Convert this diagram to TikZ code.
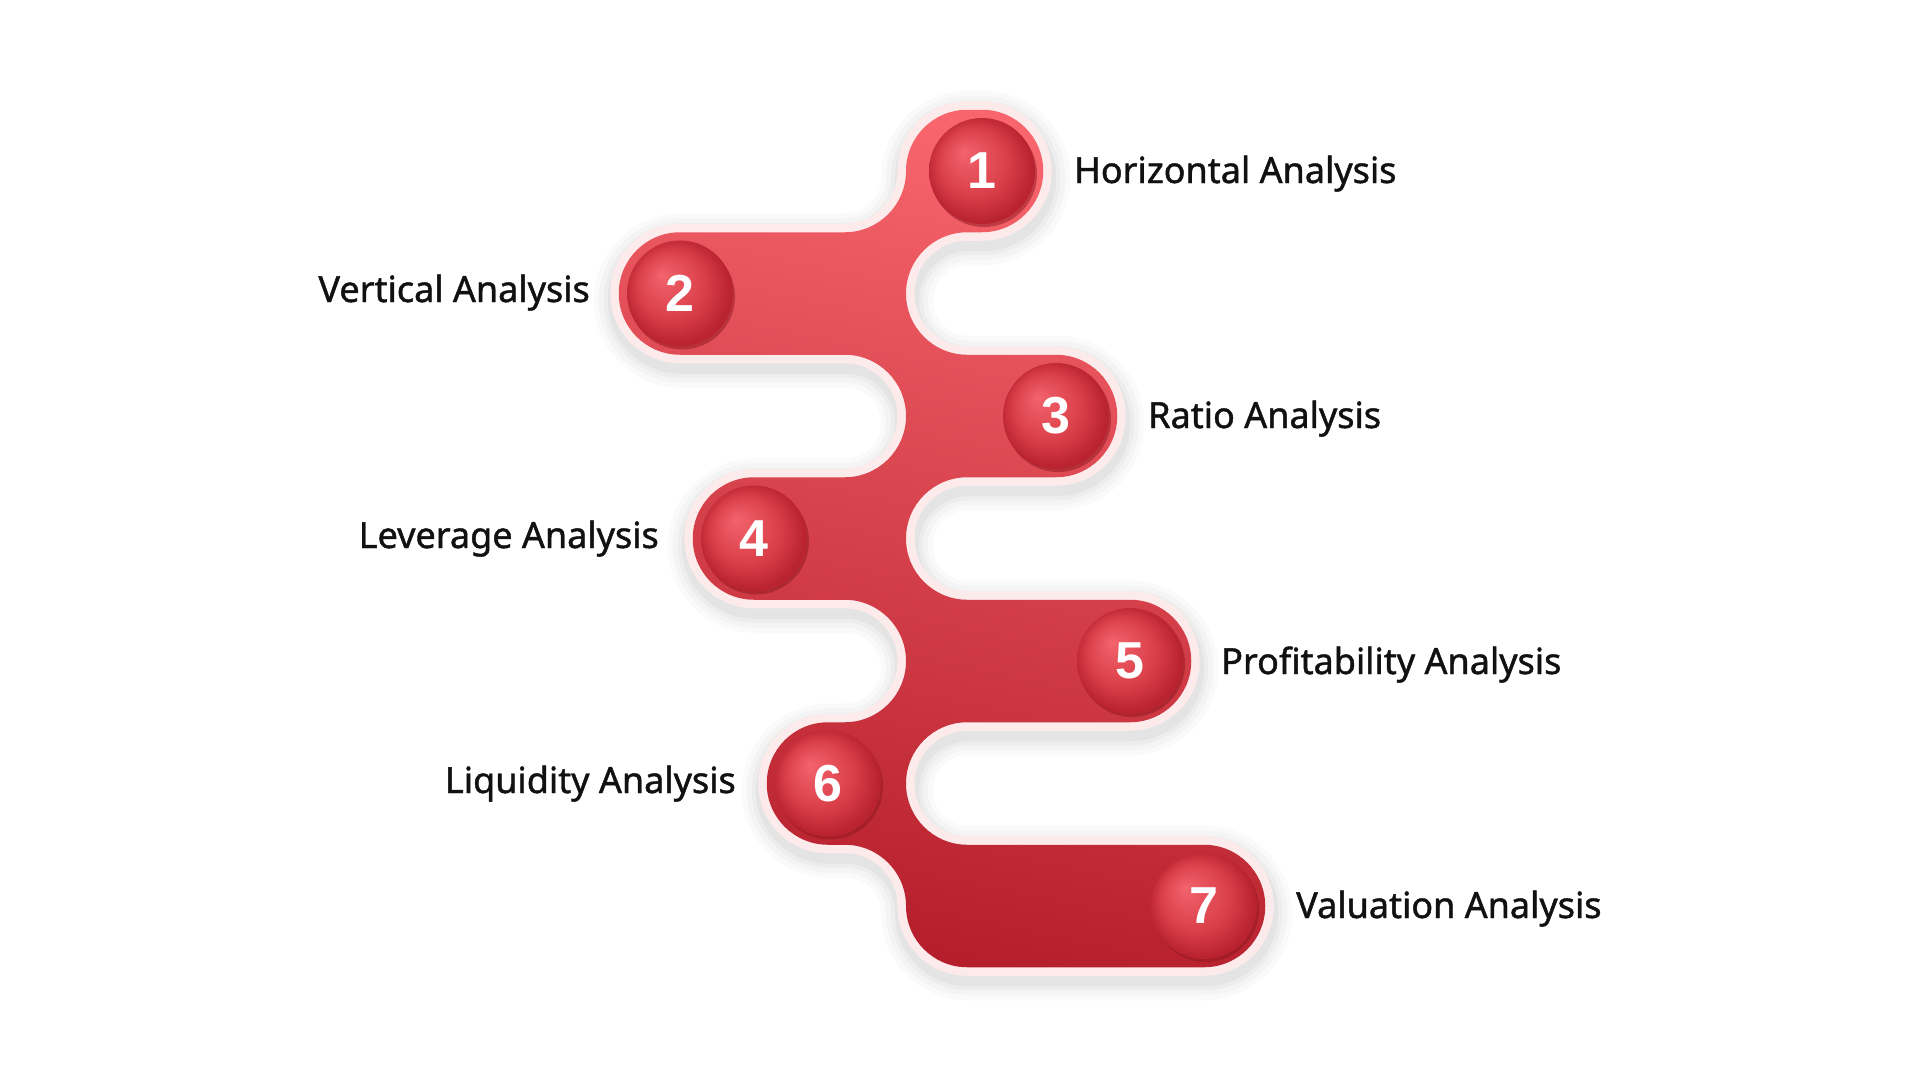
\documentclass[tikz,border=0pt]{standalone}
\usepackage{fontspec}
\setmainfont{Noto Sans}
\newfontfamily\labfont{Noto Sans}[FakeBold=1.2]
\newfontfamily\numfont{Liberation Sans}
\usetikzlibrary{shadows}
\definecolor{pale}{HTML}{FDEBEC}
\definecolor{topred}{HTML}{F8656C}
\definecolor{botred}{HTML}{B51F2B}
\definecolor{cHi}{HTML}{F3646D}
\definecolor{cMid}{HTML}{DA3F49}
\definecolor{cEdge}{HTML}{BA2430}
\definecolor{cShadow}{HTML}{8E1720}
\definecolor{txt}{HTML}{111111}
\pgfdeclareradialshading{numball}{\pgfpoint{-9bp}{9bp}}{color(0bp)=(cHi); color(16bp)=(cMid); color(25bp)=(cEdge); color(30bp)=(cEdge)}
\newcommand{\snakepath}{(967.25,-109.75) -- (982,-109.75) arc[start angle=90,end angle=-90,radius=61.25]
 -- (967.25,-232.25) arc[start angle=90,end angle=270,radius=61.25]
 -- (1056,-354.75) arc[start angle=90,end angle=-90,radius=61.25]
 -- (967.25,-477.25) arc[start angle=90,end angle=270,radius=61.25]
 -- (1130,-599.75) arc[start angle=90,end angle=-90,radius=61.25]
 -- (967.25,-722.25) arc[start angle=90,end angle=270,radius=61.25]
 -- (1204,-844.75) arc[start angle=90,end angle=-90,radius=61.25]
 -- (967.25,-967.25) arc[start angle=-90,end angle=-180,radius=61.25]
 arc[start angle=0,end angle=90,radius=61.25]
 -- (828,-844.75) arc[start angle=270,end angle=90,radius=61.25]
 -- (844.75,-722.25) arc[start angle=-90,end angle=90,radius=61.25]
 -- (754,-599.75) arc[start angle=270,end angle=90,radius=61.25]
 -- (844.75,-477.25) arc[start angle=-90,end angle=90,radius=61.25]
 -- (680,-354.75) arc[start angle=270,end angle=90,radius=61.25]
 -- (844.75,-232.25) arc[start angle=-90,end angle=0,radius=61.25]
 arc[start angle=180,end angle=90,radius=61.25] -- cycle}
\tikzset{
  numcirc/.style={circle, minimum size=106pt, inner sep=0pt, text=white,
    shade, shading=numball,
    drop shadow={shadow xshift=2pt, shadow yshift=-3pt, fill=cShadow, opacity=0.5},
    font=\numfont\fontsize{52}{60}\selectfont\bfseries},
  lab/.style={text=txt, inner sep=0pt, font=\labfont\fontsize{36}{43}\selectfont}
}
\begin{document}
\begin{tikzpicture}[x=1pt,y=1pt]
\fill[white] (0,0) rectangle (1920,-1080);
\useasboundingbox (0,0) rectangle (1920,-1080);
% soft shadow
\foreach \w/\o in {52/0.018, 42/0.022, 32/0.028, 24/0.035}{
  \draw[line width=\w pt, draw=black, draw opacity=\o, line join=round, shift={(1,-7)}] \snakepath;
}
\draw[pale, line width=17pt, line join=round] \snakepath;
\shade[top color=topred, bottom color=botred, shading angle=-12] \snakepath;
% number circles
\node[numcirc] (n1) at (982,-171) {1};
\node[numcirc] (n2) at (680,-293.5) {2};
\node[numcirc] (n3) at (1056,-416) {3};
\node[numcirc] (n4) at (754,-538.5) {4};
\node[numcirc] (n5) at (1130,-661) {5};
\node[numcirc] (n6) at (828,-783.5) {6};
\node[numcirc] (n7) at (1204,-906) {7};
% labels
\node[lab, anchor=base west] (l1) at (1074,-183) {Horizontal Analysis};
\node[lab, anchor=base east] (l2) at (590,-302) {Vertical Analysis};
\node[lab, anchor=base west] (l3) at (1148,-428) {Ratio Analysis};
\node[lab, anchor=base east] (l4) at (659,-548) {Leverage Analysis};
\node[lab, anchor=base west] (l5) at (1221,-674) {Profitability Analysis};
\node[lab, anchor=base east] (l6) at (736,-793) {Liquidity Analysis};
\node[lab, anchor=base west] (l7) at (1296,-918) {Valuation Analysis};
\end{tikzpicture}
\end{document}
